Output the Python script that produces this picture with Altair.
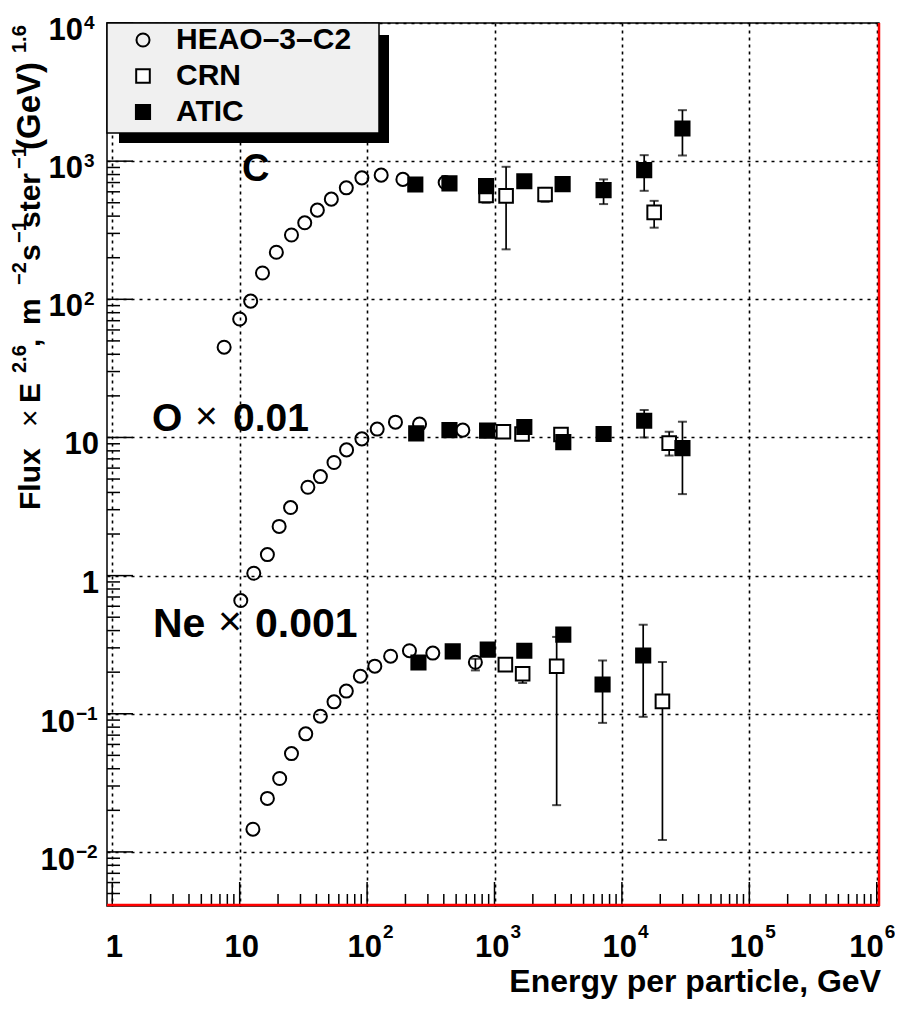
import altair as alt
import pandas as pd
import numpy as np

# ---------------- data (values as plotted) ----------------
series_names = ["HEAO\u20133\u2013C2", "CRN", "ATIC"]

heao_c_E = [7.55, 10, 12.2, 15.1, 19.4, 25.5, 32.4, 40.7, 52.4, 68.7, 91, 129, 191, 410]
heao_c_F = [45, 72, 97, 155, 219, 292, 358, 442, 531, 641, 757, 792, 738, 700]
heao_o_E = [10.2, 12.9, 16.5, 20.4, 25.1, 34.3, 43, 55, 69, 91, 120, 167, 258, 564]
heao_o_F = [0.66, 1.04, 1.42, 2.27, 3.11, 4.36, 5.21, 6.59, 8.13, 9.77, 11.5, 12.9, 12.5, 11.3]
heao_ne_E = [12.7, 16.5, 20.6, 25.5, 33, 43, 55, 68.7, 88.5, 115, 153, 215, 328, 708]
heao_ne_F = [0.0146, 0.0244, 0.034, 0.0515, 0.0716, 0.096, 0.122, 0.146, 0.187, 0.221,
             0.261, 0.286, 0.275, 0.236]
heao_ne_lo = [None] * 13 + [0.206]
heao_ne_hi = [None] * 13 + [0.25]

crn_c_E = [859, 1233, 2494, 17910]
crn_c_F = [565, 561, 574, 426]
crn_c_lo = [500, 230, 508, 330]
crn_c_hi = [620, 910, 640, 516]
crn_o_E = [1175, 1645, 3326, 23500]
crn_o_F = [11.0, 10.6, 10.5, 9.1]
crn_o_lo = [10.4, 10.0, 10.0, 7.4]
crn_o_hi = [11.6, 11.2, 11.0, 11.0]
crn_ne_E = [1217, 1663, 3075, 20800]
crn_ne_F = [0.227, 0.195, 0.221, 0.123]
crn_ne_lo = [0.205, 0.167, 0.0218, 0.0122]
crn_ne_hi = [0.25, 0.218, 0.36, 0.237]

atic_c_E = [239, 443, 859, 1714, 3425, 7180, 14960, 29860]
atic_c_F = [678, 690, 659, 716, 682, 617, 861, 1723]
atic_c_lo = [None] * 5 + [489, 610, 1099]
atic_c_hi = [None] * 5 + [738, 1105, 2339]
atic_o_E = [243, 443, 875, 1714, 3467, 7180, 14960, 29860]
atic_o_F = [10.7, 11.3, 11.2, 11.9, 9.25, 10.6, 13.2, 8.37]
atic_o_lo = [None] * 6 + [10.0, 3.89]
atic_o_hi = [None] * 6 + [15.8, 13.0]
atic_ne_E = [253, 470, 885, 1714, 3467, 7050, 14690]
atic_ne_F = [0.235, 0.283, 0.291, 0.286, 0.374, 0.163, 0.264]
atic_ne_lo = [None] * 5 + [0.0859, 0.095]
atic_ne_hi = [None] * 5 + [0.243, 0.441]

x_major = [1, 10, 100, 1e3, 1e4, 1e5, 1e6]
y_major = [1e-2, 1e-1, 1, 10, 100, 1e3, 1e4]

# ---------------- build tables ----------------
def block(series, E, F, lo=None, hi=None):
    n = len(E)
    lo = lo if lo is not None else [None] * n
    hi = hi if hi is not None else [None] * n
    return pd.DataFrame({"series": series, "E": E, "F": F, "lo": lo, "hi": hi})

S_H, S_C, S_A = series_names
df = pd.concat([
    block(S_H, heao_c_E, heao_c_F),
    block(S_H, heao_o_E, heao_o_F),
    block(S_H, heao_ne_E, heao_ne_F, heao_ne_lo, heao_ne_hi),
    block(S_C, crn_c_E, crn_c_F, crn_c_lo, crn_c_hi),
    block(S_C, crn_o_E, crn_o_F, crn_o_lo, crn_o_hi),
    block(S_C, crn_ne_E, crn_ne_F, crn_ne_lo, crn_ne_hi),
    block(S_A, atic_c_E, atic_c_F, atic_c_lo, atic_c_hi),
    block(S_A, atic_o_E, atic_o_F, atic_o_lo, atic_o_hi),
    block(S_A, atic_ne_E, atic_ne_F, atic_ne_lo, atic_ne_hi),
], ignore_index=True)
err = df.dropna(subset=["lo", "hi"]).copy()
err["lo"] = err["lo"].astype(float)
err["hi"] = err["hi"].astype(float)

x_minor = [k * 10.0 ** n for n in range(0, 6) for k in range(2, 10)]
y_minor = [k * 10.0 ** n for n in range(-3, 4) for k in range(2, 10) if k * 10.0 ** n > 4.1e-3]

W, H = 772, 883
FONT = "Liberation Sans"

xs = alt.Scale(type="log", domain=[0.909, 1.042e6], nice=False)
ys = alt.Scale(type="log", domain=[4.06e-3, 1e4], nice=False)
x_axis = alt.Axis(grid=True, gridDash=[3, 4], gridColor="black", gridWidth=1.6, gridOpacity=1,
                  values=x_major, labels=False, ticks=False, domain=False, title=None)
y_axis = alt.Axis(grid=True, gridDash=[3, 5], gridColor="black", gridWidth=1.6, gridOpacity=1,
                  values=y_major, labels=False, ticks=False, domain=False, title=None)


def X(field):
    return alt.X(field, scale=xs, axis=x_axis)


def Y(field):
    return alt.Y(field, scale=ys, axis=y_axis)


one = pd.DataFrame({"k": [0]})

legend = alt.Legend(title=None, orient="none", legendX=0, legendY=-3, padding=5,
                    symbolOffset=16, labelOffset=18, rowPadding=6,
                    labelFont=FONT, labelFontSize=30, labelFontWeight="bold", labelColor="black",
                    symbolStrokeWidth=2, symbolOpacity=1, labelLimit=400)

# ---------------- layers ----------------
ticks_x_major = alt.Chart(pd.DataFrame({"v": x_major})).mark_rule(color="black", strokeWidth=1.5).encode(
    x=X("v:Q"), y=alt.value(H), y2=alt.value(H - 24))
ticks_x_minor = alt.Chart(pd.DataFrame({"v": x_minor})).mark_rule(color="black", strokeWidth=1.5).encode(
    x=X("v:Q"), y=alt.value(H), y2=alt.value(H - 12))
ticks_y_major = alt.Chart(pd.DataFrame({"v": y_major})).mark_rule(color="black", strokeWidth=1.5).encode(
    y=Y("v:Q"), x=alt.value(0), x2=alt.value(26))
ticks_y_minor = alt.Chart(pd.DataFrame({"v": y_minor})).mark_rule(color="black", strokeWidth=1.5).encode(
    y=Y("v:Q"), x=alt.value(0), x2=alt.value(13))

err_rule = alt.Chart(err).mark_rule(color="black", strokeWidth=1.7).encode(
    x=X("E:Q"), y=Y("lo:Q"), y2="hi:Q")
err_cap_lo = alt.Chart(err).mark_tick(color="black", orient="horizontal", size=9, thickness=2).encode(
    x=X("E:Q"), y=Y("lo:Q"))
err_cap_hi = alt.Chart(err).mark_tick(color="black", orient="horizontal", size=9, thickness=2).encode(
    x=X("E:Q"), y=Y("hi:Q"))

pts = alt.Chart(df).mark_point(filled=True, strokeWidth=2, opacity=1).encode(
    x=X("E:Q"), y=Y("F:Q"),
    shape=alt.Shape("series:N", scale=alt.Scale(domain=series_names, range=["circle", "square", "square"]),
                    legend=legend),
    fill=alt.Fill("series:N", scale=alt.Scale(domain=series_names, range=["transparent", "white", "black"]),
                  legend=legend),
    stroke=alt.Stroke("series:N", scale=alt.Scale(domain=series_names, range=["black", "black", "black"]),
                      legend=legend),
    size=alt.Size("series:N", scale=alt.Scale(domain=series_names, range=[170, 200, 256]), legend=legend),
)

# legend box with shadow
shadow = alt.Chart(one).mark_rect(fill="black").encode(
    x=alt.value(12), x2=alt.value(282), y=alt.value(12), y2=alt.value(120))
box = alt.Chart(one).mark_rect(fill="#f0f0f0", stroke="black", strokeWidth=1.5).encode(
    x=alt.value(0), x2=alt.value(272), y=alt.value(0), y2=alt.value(110))

# red frame parts
red_bottom = alt.Chart(one).mark_rule(color="#ff0000", strokeWidth=2.5).encode(
    x=alt.value(0), x2=alt.value(W), y=alt.value(H - 1))
red_right = alt.Chart(one).mark_rule(color="#ff0000", strokeWidth=2.5).encode(
    x=alt.value(W), y=alt.value(0), y2=alt.value(H))


def txt(s, x, y, size, weight="bold", align="left", baseline="alphabetic", angle=0):
    kw = dict(align=align, baseline=baseline, font=FONT, fontSize=size, fontWeight=weight, color="black")
    if angle:
        kw["angle"] = angle
    return alt.Chart(one).mark_text(**kw).encode(x=alt.value(x), y=alt.value(y), text=alt.value(s))


# y tick labels
ylab_pow = pd.DataFrame({"v": [1e4, 1e3, 1e2], "sup": ["4", "3", "2"]})
ylab_plain = pd.DataFrame({"v": [10, 1], "t": ["10", "1"]})
ylab_neg = pd.DataFrame({"v": [1e-1, 1e-2], "sup": ["\u22121", "\u22122"]})
lab_kw = dict(font=FONT, fontWeight="bold", color="black", baseline="alphabetic")
ylabels = [
    alt.Chart(ylab_pow).mark_text(align="right", dy=17, fontSize=31, **lab_kw).encode(
        y=Y("v:Q"), x=alt.value(-24), text=alt.value("10")),
    alt.Chart(ylab_pow).mark_text(align="left", dy=6, fontSize=19, **lab_kw).encode(
        y=Y("v:Q"), x=alt.value(-23), text="sup:N"),
    alt.Chart(ylab_plain).mark_text(align="right", dy=17, fontSize=31, **lab_kw).encode(
        y=Y("v:Q"), x=alt.value(-8), text="t:N"),
    alt.Chart(ylab_neg).mark_text(align="right", dy=18, fontSize=31, **lab_kw).encode(
        y=Y("v:Q"), x=alt.value(-32), text=alt.value("10")),
    alt.Chart(ylab_neg).mark_text(align="left", dy=6, fontSize=19, **lab_kw).encode(
        y=Y("v:Q"), x=alt.value(-31), text="sup:N"),
]

# x tick labels
xlab_pow = pd.DataFrame({"v": [1e2, 1e3, 1e4, 1e5], "sup": ["2", "3", "4", "5"]})
xlab_last = pd.DataFrame({"v": [1e6], "sup": ["6"]})
xlab_plain = pd.DataFrame({"v": [1, 10], "t": ["1", "10"]})
XL_BASE, XL_SUP = 934, 915
xlabels = [
    alt.Chart(xlab_pow).mark_text(align="right", dx=15, fontSize=31, **lab_kw).encode(
        x=X("v:Q"), y=alt.value(XL_BASE), text=alt.value("10")),
    alt.Chart(xlab_pow).mark_text(align="left", dx=16, fontSize=19, **lab_kw).encode(
        x=X("v:Q"), y=alt.value(XL_SUP), text="sup:N"),
    alt.Chart(xlab_last).mark_text(align="right", dx=7, fontSize=31, **lab_kw).encode(
        x=X("v:Q"), y=alt.value(XL_BASE), text=alt.value("10")),
    alt.Chart(xlab_last).mark_text(align="left", dx=8, fontSize=19, **lab_kw).encode(
        x=X("v:Q"), y=alt.value(XL_SUP), text="sup:N"),
    alt.Chart(xlab_plain).mark_text(align="center", dx=2, fontSize=31, **lab_kw).encode(
        x=X("v:Q"), y=alt.value(XL_BASE), text="t:N"),
]

# axis titles
x_title = txt("Energy per particle, GeV", W + 2, 969, 32, align="right")
bx, sx = -67, -81
y_title = [
    txt("Flux", bx, 487, 30, angle=270),
    txt("\u00d7", bx, 404, 30, weight="normal", angle=270),
    txt("E", bx, 380, 30, angle=270),
    txt("2.6", sx, 350, 20, angle=270),
    txt(",", bx, 324, 30, angle=270),
    txt("m", bx, 302, 30, angle=270),
    txt("\u22122", sx, 262, 20, angle=270),
    txt("s", bx, 238, 30, angle=270),
    txt("\u22121", sx, 220, 20, angle=270),
    txt("ster", bx, 205, 30, angle=270),
    txt("\u22121", sx, 146, 20, angle=270),
    txt("(GeV)", bx, 127, 33, angle=270),
    txt("1.6", sx, 30, 20, angle=270),
]

# element annotations
annots = [
    txt("C", 135, 158, 38),
    txt("O", 45, 408, 39),
    txt("\u00d7", 88, 406, 39, weight="normal"),
    txt("0.01", 126, 408, 39),
    txt("Ne", 46, 614, 41),
    txt("\u00d7", 111, 612, 41, weight="normal"),
    txt("0.001", 148, 614, 41),
]

layers = ([ticks_x_major, ticks_x_minor, ticks_y_major, ticks_y_minor,
           err_rule, err_cap_lo, err_cap_hi, pts, shadow, box, red_bottom, red_right]
          + ylabels + xlabels + [x_title] + y_title + annots)

chart = alt.layer(*layers).properties(
    width=W, height=H,
    autosize=alt.AutoSizeParams(type="none"),
    padding={"left": 99, "top": 15, "right": 16, "bottom": 95},
    background="white",
).configure_view(stroke="black", strokeWidth=1.5)

chart.save("out.html", embed_options={"renderer": "svg", "actions": False})
